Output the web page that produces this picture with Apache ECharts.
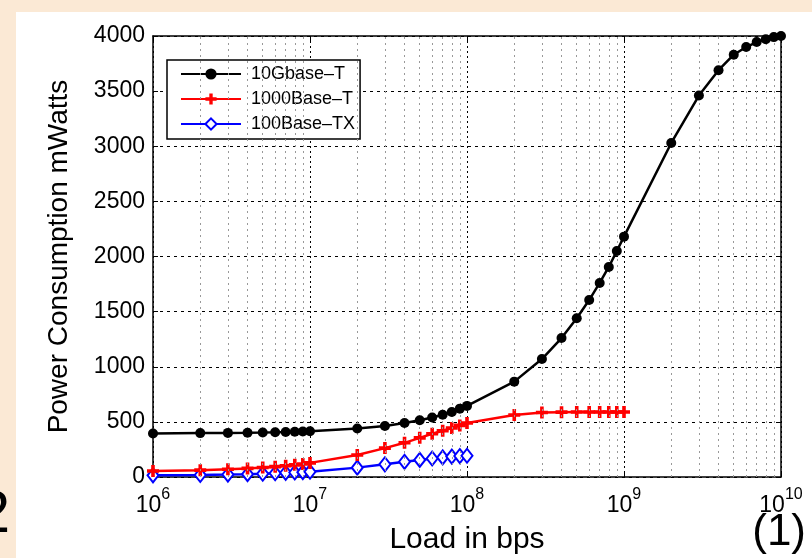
<!DOCTYPE html>
<html>
<head>
<meta charset="utf-8">
<script src="https://cdn.jsdelivr.net/npm/echarts@6/dist/echarts.min.js"></script>
<style>html,body{margin:0;padding:0;background:#fff}#c{width:812px;height:558px}</style>
</head>
<body>
<div id="c"></div>
<script>
// ---- data ----
const load = [1e6,2e6,3e6,4e6,5e6,6e6,7e6,8e6,9e6,1e7,
              2e7,3e7,4e7,5e7,6e7,7e7,8e7,9e7,1e8,
              2e8,3e8,4e8,5e8,6e8,7e8,8e8,9e8,1e9,
              2e9,3e9,4e9,5e9,6e9,7e9,8e9,9e9,1e10];
const tenGbaseT = [395,398,400,402,404,406,408,410,412,415,
                   440,462,490,515,540,565,590,620,645,
                   865,1070,1260,1440,1605,1760,1905,2050,2180,
                   3030,3460,3690,3830,3900,3945,3970,3990,4000];
const gigBaseT = [55,62,70,78,86,94,102,110,118,128,
                  200,262,310,355,392,420,445,468,490,
                  562,585,588,590,590,590,590,590,590];
const fastBaseTX = [15,18,22,26,30,34,38,41,44,48,
                    85,115,138,155,168,178,185,190,193];
const seriesNames = ['10Gbase\u2013T','1000Base\u2013T','100Base\u2013TX'];
const minorLoad = [2e6,3e6,4e6,5e6,6e6,7e6,8e6,9e6,
                   2e7,3e7,4e7,5e7,6e7,7e7,8e7,9e7,
                   2e8,3e8,4e8,5e8,6e8,7e8,8e8,9e8,
                   2e9,3e9,4e9,5e9,6e9,7e9,8e9,9e9];
const yTicks = {min:0, max:4000, interval:500};

const FONT = '"Liberation Sans", Arial, Helvetica, sans-serif';
const pair = (ys) => ys.map((y,i)=>[load[i], y]);
const plusPath = 'path://M3.5,0 L6.5,0 L6.5,3.5 L10,3.5 L10,6.5 L6.5,6.5 L6.5,10 L3.5,10 L3.5,6.5 L0,6.5 L0,3.5 L3.5,3.5 Z';

const chart = echarts.init(document.getElementById('c'), null, {renderer:'canvas'});
chart.setOption({
  animation:false,
  backgroundColor:'#fff',
  textStyle:{fontFamily:FONT},
  grid:{left:153, right:31, top:36, bottom:81, containLabel:false, outerBoundsMode:'none', show:false},
  graphic:[
    {type:'rect', shape:{x:0,y:0,width:812,height:12}, style:{fill:'#FBE9D5'}, silent:true, z:-10},
    {type:'rect', shape:{x:0,y:0,width:16,height:558}, style:{fill:'#FBE9D5'}, silent:true, z:-10},
    {type:'text', style:{text:'(1)', x:806, y:533, align:'right', verticalAlign:'middle', font:'44px '+FONT, fill:'#000'}, z:10},
    {type:'text', style:{text:'2', x:10, y:515, align:'right', verticalAlign:'middle', font:'60px '+FONT, fill:'#000'}, z:10}
  ],
  legend:{
    orient:'vertical', left:167, top:60,
    backgroundColor:'#fff', borderColor:'#000', borderWidth:1.5, borderRadius:0,
    padding:[5,5,6,13], itemWidth:60, itemHeight:14, itemGap:7,
    textStyle:{fontFamily:FONT, fontSize:18, color:'#000', padding:[0,0,0,5]},
    data:seriesNames
  },
  xAxis:[{
    type:'log', logBase:10, min:1e6, max:1e10, position:'bottom',
    axisLine:{show:true, onZero:false, lineStyle:{color:'#000', width:1.5}},
    axisTick:{show:true, inside:true, length:5, lineStyle:{color:'#000'}},
    axisLabel:{
      margin:10, color:'#000',
      formatter:(v)=>'{b|10}{s|'+Math.round(Math.log10(v))+'}',
      rich:{
        b:{fontFamily:FONT, fontSize:23, color:'#000', lineHeight:30, verticalAlign:'bottom'},
        s:{fontFamily:FONT, fontSize:16, color:'#000', lineHeight:15, verticalAlign:'top'}
      }
    },
    splitLine:{show:true, lineStyle:{type:[2,3], color:'#000', width:1}},
    name:'Load in bps', nameLocation:'middle', nameGap:48,
    nameTextStyle:{fontFamily:FONT, fontSize:30, color:'#000'}
  },{
    type:'log', logBase:10, min:1e6, max:1e10, position:'top',
    axisLine:{show:true, onZero:false, lineStyle:{color:'#000', width:1.5}},
    axisTick:{show:true, inside:true, length:5, lineStyle:{color:'#000'}},
    axisLabel:{show:false}, splitLine:{show:false}
  }],
  yAxis:[{
    type:'value', min:yTicks.min, max:yTicks.max, interval:yTicks.interval, position:'left',
    axisLine:{show:true, onZero:false, lineStyle:{color:'#000', width:1.5}},
    axisTick:{show:true, inside:true, length:5, lineStyle:{color:'#000'}},
    axisLabel:{fontFamily:FONT, fontSize:23, color:'#000', margin:8, formatter:(v)=>String(v)},
    splitLine:{show:true, lineStyle:{type:[3,4], color:'#000', width:1}},
    name:'Power Consumption mWatts', nameLocation:'middle', nameGap:80,
    nameTextStyle:{fontFamily:FONT, fontSize:28, color:'#000'}
  },{
    type:'value', min:yTicks.min, max:yTicks.max, interval:yTicks.interval, position:'right',
    axisLine:{show:true, onZero:false, lineStyle:{color:'#000', width:1.5}},
    axisTick:{show:true, inside:true, length:5, lineStyle:{color:'#000'}},
    axisLabel:{show:false}, splitLine:{show:false}
  }],
  series:[
    {
      name:'minorGrid', type:'line', data:[], z:1, silent:true,
      markLine:{silent:true, symbol:['none','none'], label:{show:false}, animation:false,
        lineStyle:{type:[2,4], color:'#999', width:1},
        data:minorLoad.map(v=>({xAxis:v}))}
    },
    {
      name:seriesNames[0], type:'line', data:pair(tenGbaseT), clip:false, z:5,
      symbol:'circle', symbolSize:10,
      lineStyle:{color:'#000', width:2.5}, itemStyle:{color:'#000'}
    },
    {
      name:seriesNames[1], type:'line', data:pair(gigBaseT), clip:false, z:4,
      symbol:plusPath, symbolSize:12,
      lineStyle:{color:'#ff0000', width:2.5}, itemStyle:{color:'#ff0000'}
    },
    {
      name:seriesNames[2], type:'line', data:pair(fastBaseTX), clip:false, z:3,
      symbol:'emptyDiamond', symbolSize:[11,14],
      lineStyle:{color:'#0000ff', width:2.5}, itemStyle:{color:'#0000ff', borderColor:'#0000ff', borderWidth:2.5}
    }
  ]
});
</script>
</body>
</html>
